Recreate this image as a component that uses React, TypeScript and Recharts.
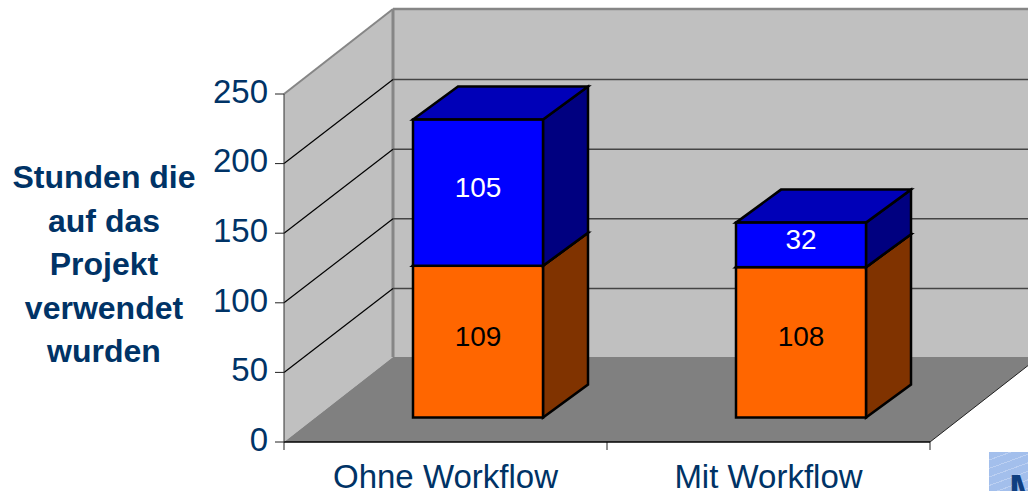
import React from 'react';
import { BarChart, Bar, XAxis, YAxis, ReferenceArea, ReferenceLine, LabelList } from 'recharts';

const categories = ['Ohne Workflow', 'Mit Workflow'];
const lowerValues = [109, 108];
const upperValues = [105, 32];
const yTicks = [0, 50, 100, 150, 200, 250];
const titleLines = ['Stunden die', 'auf das', 'Projekt', 'verwendet', 'wurden'];

const chartData = categories.map((name, i) => ({
  name,
  lower: lowerValues[i],
  upper: upperValues[i],
}));

const FONT = '"Liberation Sans", Arial, sans-serif';
const NAVY = '#003366';
// wall depth and bar depth of the fake 3D box
const WALL_DX = 109;
const WALL_DY = -85;
const BAR_DX = 45;
const BAR_DY = -33;
const BAR_SHIFT_X = 32;
const BAR_SHIFT_Y = -24.5;

const pts = (list: number[][]) => list.map(p => p.join(',')).join(' ');

function WallsShape({ x, y, width, height }: any) {
  const bottom = y + height;
  const right = x + width;
  return (
    <g>
      {/* back wall */}
      <rect x={x + WALL_DX} y={y + WALL_DY} width={width + 20} height={height} fill="#c0c0c0" />
      {/* side wall */}
      <polygon
        points={pts([[x, y], [x + WALL_DX, y + WALL_DY], [x + WALL_DX, bottom + WALL_DY], [x, bottom]])}
        fill="#c0c0c0"
      />
      {/* floor */}
      <polygon
        points={pts([[x, bottom], [x + WALL_DX, bottom + WALL_DY], [right + WALL_DX, bottom + WALL_DY], [right, bottom]])}
        fill="#808080"
      />
      <line x1={right} y1={bottom} x2={right + WALL_DX} y2={bottom + WALL_DY} stroke="#222" strokeWidth={1} />
      <line x1={x} y1={y} x2={x + WALL_DX} y2={y + WALL_DY} stroke="#868686" strokeWidth={2} />
      <line x1={x + WALL_DX} y1={y + WALL_DY} x2={x + width + 130} y2={y + WALL_DY} stroke="#868686" strokeWidth={2.5} />
      <line x1={x + WALL_DX} y1={y + WALL_DY} x2={x + WALL_DX} y2={bottom + WALL_DY} stroke="#868686" strokeWidth={3} />
      {/* category boundary ticks */}
      {[x, x + width / 2, right].map(tx => (
        <line key={tx} x1={tx} y1={bottom} x2={tx} y2={bottom + 8} stroke="#222" strokeWidth={1} />
      ))}
    </g>
  );
}

function GridShape({ x1, y1, x2, y2 }: any) {
  const left = Math.min(x1, x2);
  const right = Math.max(x1, x2);
  return (
    <g>
      <line x1={left} y1={y1} x2={left + WALL_DX} y2={y1 + WALL_DY + 1} stroke="#000" strokeWidth={1.2} />
      <line x1={left + WALL_DX} y1={y2 + WALL_DY + 1} x2={right + 130} y2={y2 + WALL_DY + 1} stroke="#444" strokeWidth={1.5} />
    </g>
  );
}

function Box3D({ x, y, width, height, front, top, side }: any) {
  const l = x + BAR_SHIFT_X;
  const t = y + BAR_SHIFT_Y;
  const r = l + width;
  const b = t + height;
  const common = { stroke: '#000', strokeWidth: 2.5, strokeLinejoin: 'miter' as const };
  return (
    <g>
      <polygon points={pts([[r, t], [r + BAR_DX, t + BAR_DY], [r + BAR_DX, b + BAR_DY], [r, b]])} fill={side} {...common} />
      <polygon points={pts([[l, t], [l + BAR_DX, t + BAR_DY], [r + BAR_DX, t + BAR_DY], [r, t]])} fill={top} {...common} />
      <rect x={l} y={t} width={width} height={height} fill={front} {...common} />
    </g>
  );
}

function BoxLabel({ x, y, width, height, value, color }: any) {
  return (
    <text
      x={x + BAR_SHIFT_X + width / 2}
      y={y + BAR_SHIFT_Y + height / 2 - 6}
      dy="0.36em"
      textAnchor="middle"
      fontFamily={FONT}
      fontSize={28}
      fill={color}
    >
      {value}
    </text>
  );
}

function YTick({ x, y, payload }: any) {
  return (
    <text x={x - 5} y={y - 3} dy="0.36em" textAnchor="end" fontFamily={FONT} fontSize={33} fill={NAVY}>
      {payload.value}
    </text>
  );
}

function XTick({ x, y, payload }: any) {
  return (
    <text x={x} y={476} dy="0.36em" textAnchor="middle" fontFamily={FONT} fontSize={33} fill={NAVY}>
      {payload.value}
    </text>
  );
}

export default function App() {
  return (
    <div style={{ position: 'absolute', left: 0, top: 0, width: 1028, height: 491, overflow: 'hidden', background: '#fff' }}>
      <BarChart
        width={1028}
        height={491}
        data={chartData}
        barSize={130}
        margin={{ top: 94, right: 98, bottom: 0, left: 200 }}
      >
        <ReferenceArea y1={0} y2={250} shape={<WallsShape />} zIndex={50} />
        {yTicks.slice(1, 5).map(t => (
          <ReferenceLine key={t} y={t} shape={<GridShape />} zIndex={60} />
        ))}
        <XAxis
          dataKey="name"
          height={49}
          tickLine={false}
          axisLine={{ stroke: '#000', strokeWidth: 1.5 }}
          tick={<XTick />}
          interval={0}
        />
        <YAxis
          domain={[0, 250]}
          ticks={yTicks}
          width={84}
          tickSize={9}
          tickLine={{ stroke: '#222' }}
          axisLine={{ stroke: '#333' }}
          tick={<YTick />}
          interval={0}
        />
        <Bar
          dataKey="lower"
          stackId="a"
          isAnimationActive={false}
          shape={<Box3D front="#ff6600" top="#b34700" side="#803300" />}
        >
          <LabelList dataKey="lower" content={<BoxLabel color="#000" />} />
        </Bar>
        <Bar
          dataKey="upper"
          stackId="a"
          isAnimationActive={false}
          shape={<Box3D front="#0000ff" top="#0000b8" side="#000080" />}
        >
          <LabelList dataKey="upper" content={<BoxLabel color="#fff" />} />
        </Bar>
      </BarChart>

      {/* axis title sits outside the plot, stacked and centred */}
      <div
        style={{
          position: 'absolute',
          left: 4,
          top: 156,
          width: 200,
          textAlign: 'center',
          fontFamily: FONT,
          fontWeight: 700,
          fontSize: 32,
          lineHeight: '43.5px',
          color: NAVY,
        }}
      >
        {titleLines.map(line => (
          <div key={line}>{line}</div>
        ))}
      </div>

      {/* logo corner, cut by the page edge */}
      <div
        style={{
          position: 'absolute',
          left: 989,
          top: 452,
          width: 60,
          height: 60,
          overflow: 'hidden',
          background: 'repeating-linear-gradient(160deg, #a3bfec 0 7px, #bcd0f2 7px 8px)',
        }}
      >
        <span
          style={{
            position: 'absolute',
            left: 20,
            top: 14,
            fontFamily: FONT,
            fontWeight: 700,
            fontSize: 42,
            color: '#0f3f80',
          }}
        >
          M
        </span>
      </div>
    </div>
  );
}
